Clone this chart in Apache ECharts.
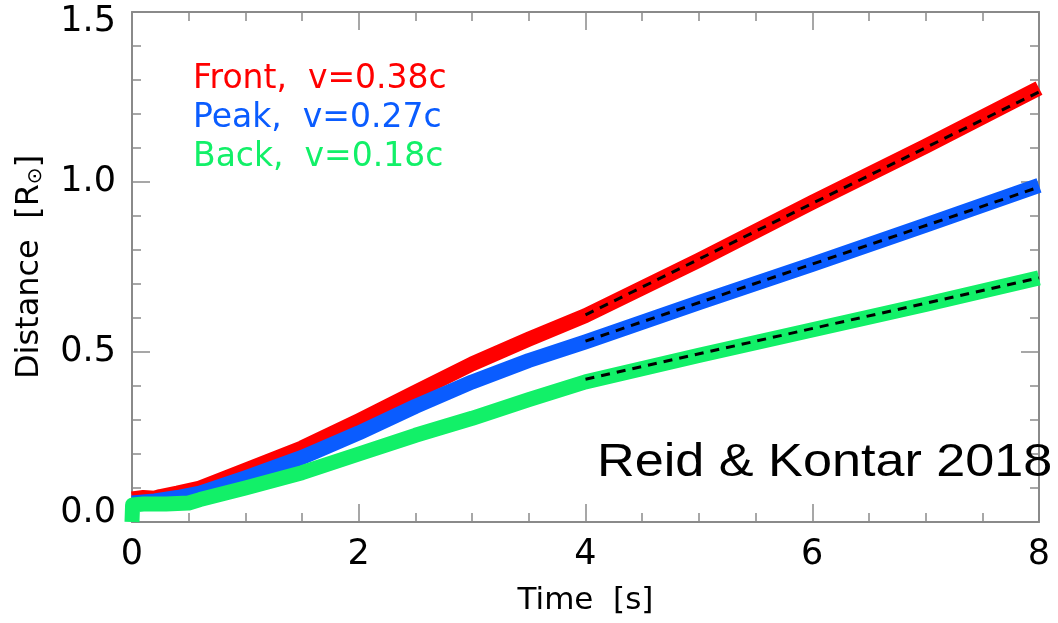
<!DOCTYPE html>
<html>
<head>
<meta charset="utf-8">
<script src="https://cdn.jsdelivr.net/npm/echarts@6/dist/echarts.min.js"></script>
<style>
html,body{margin:0;padding:0;background:#fff;}
#chart{width:1058px;height:623px;}
</style>
</head>
<body>
<div id="chart"></div>
<script>
// ---- data ----
const tFront = [0, 0.1, 0.2, 0.25, 0.4, 0.6, 1.0, 1.5, 2.0, 2.5, 3.0, 3.5, 4.0, 5.0, 6.0, 7.0, 8.0];
const front  = [0.068, 0.072, 0.07, 0.075, 0.085, 0.10, 0.152, 0.218, 0.298, 0.382, 0.465, 0.538, 0.607, 0.77, 0.94, 1.105, 1.276];

const tPeak = [0, 0.2, 0.4, 0.6, 1.0, 1.5, 2.0, 2.5, 3.0, 3.5, 4.0, 5.0, 6.0, 7.0, 8.0];
const peak  = [0.056, 0.062, 0.072, 0.085, 0.13, 0.19, 0.262, 0.34, 0.412, 0.475, 0.53, 0.645, 0.758, 0.873, 0.99];

const tBack = [0, 0.005, 0.1, 0.3, 0.5, 0.6, 1.0, 1.5, 2.0, 2.5, 3.0, 3.5, 4.0, 5.0, 6.0, 7.0, 8.0];
const back  = [0.0, 0.05, 0.053, 0.053, 0.056, 0.066, 0.1, 0.145, 0.2, 0.255, 0.305, 0.36, 0.412, 0.49, 0.565, 0.64, 0.718];

const tFit     = [4, 8];
const frontFit = [0.609, 1.265];
const peakFit  = [0.532, 0.985];
const backFit  = [0.42, 0.718];

const legendLines = ['Front,  v=0.38c', 'Peak,  v=0.27c', 'Back,  v=0.18c'];
const xTitle = 'Time  [s]';
const credit = 'Reid & Kontar 2018';

const cRed = '#ff0000', cBlue = '#0a5cff', cGreen = '#12f068';
const gray = '#8a8a8a';
const zip = (t, v) => t.map((x, i) => [x, v[i]]);

const chart = echarts.init(document.getElementById('chart'), null, {renderer: 'canvas'});

const tickFont = 35;

function xAx(pos, labels) {
  return {
    type: 'value', min: 0, max: 8, interval: 2, position: pos,
    axisLine: {show: true, onZero: false, lineStyle: {color: gray, width: 2}},
    axisTick: {show: true, inside: true, length: 18, lineStyle: {color: gray, width: 1.5}},
    minorTick: {show: true, splitNumber: 4, length: 9, lineStyle: {color: gray, width: 1.5}},
    splitLine: {show: false},
    axisLabel: {show: labels, fontSize: tickFont, color: '#000', margin: 15, fontFamily: 'DejaVu Sans'},
    name: labels ? xTitle : '', nameLocation: 'middle', nameGap: 63,
    nameTextStyle: {fontSize: 31, color: '#000', fontFamily: 'DejaVu Sans'}
  };
}
function yAx(pos, labels) {
  return {
    type: 'value', min: 0, max: 1.5, interval: 0.5, position: pos,
    axisLine: {show: true, onZero: false, lineStyle: {color: gray, width: 2}},
    axisTick: {show: true, inside: true, length: 18, lineStyle: {color: gray, width: 1.5}},
    minorTick: {show: true, splitNumber: 5, length: 9, lineStyle: {color: gray, width: 1.5}},
    splitLine: {show: false},
    axisLabel: {
      show: labels, color: '#000', margin: 16, fontSize: tickFont, fontFamily: 'DejaVu Sans',
      formatter: function (v) {
        const s = v.toFixed(1);
        if (v === 0) return '{lo|' + s + '}';
        if (v === 1.5) return '{hi|' + s + '}';
        return '{n|' + s + '}';
      },
      rich: {
        n:  {fontSize: tickFont, color: '#000', fontFamily: 'DejaVu Sans'},
        lo: {fontSize: tickFont, color: '#000', fontFamily: 'DejaVu Sans', padding: [0, 0, 18, 0]},
        hi: {fontSize: tickFont, color: '#000', fontFamily: 'DejaVu Sans', padding: [20, 0, 0, 0]}
      }
    },
    name: labels ? 'Distance  [R{sub|⊙}]' : '', nameLocation: 'middle', nameGap: 86,
    nameTextStyle: {
      fontSize: 32, color: '#000', fontFamily: 'DejaVu Sans',
      rich: {sub: {fontSize: 20, color: '#000', fontFamily: 'DejaVu Sans', verticalAlign: 'bottom'}}
    }
  };
}

function band(name, data, color) {
  return {
    name: name, type: 'line', data: data, showSymbol: false, symbol: 'none',
    xAxisIndex: 0, yAxisIndex: 0, animation: false, smooth: false,
    lineStyle: {color: color, width: 15, cap: 'butt', join: 'round'}
  };
}
function fit(data) {
  return {
    type: 'line', data: data, showSymbol: false, symbol: 'none',
    xAxisIndex: 0, yAxisIndex: 0, animation: false,
    lineStyle: {color: '#000', width: 3, type: [9, 7]}
  };
}

const legendFont = '33px "DejaVu Sans"';
const option = {
  backgroundColor: '#fff',
  animation: false,
  grid: {left: 132, right: 19, top: 12, bottom: 101},
  xAxis: [xAx('bottom', true), xAx('top', false)],
  yAxis: [yAx('left', true), yAx('right', false)],
  series: [
    band('Front', zip(tFront, front), cRed),
    band('Peak', zip(tPeak, peak), cBlue),
    band('Back', zip(tBack, back), cGreen),
    fit(zip(tFit, frontFit)),
    fit(zip(tFit, peakFit)),
    fit(zip(tFit, backFit))
  ],
  graphic: [
    {type: 'text', x: 193, y: 79, style: {text: legendLines[0], fill: cRed, font: legendFont, align: 'left', verticalAlign: 'middle'}},
    {type: 'text', x: 193, y: 118, style: {text: legendLines[1], fill: cBlue, font: legendFont, align: 'left', verticalAlign: 'middle'}},
    {type: 'text', x: 193, y: 157, style: {text: legendLines[2], fill: cGreen, font: legendFont, align: 'left', verticalAlign: 'middle'}},
    {type: 'text', x: 597, y: 463, scaleX: 1.11, z: 100,
     style: {text: credit, fill: '#000', font: '47px "Liberation Sans"', align: 'left', verticalAlign: 'middle'}}
  ]
};
chart.setOption(option);
</script>
</body>
</html>
